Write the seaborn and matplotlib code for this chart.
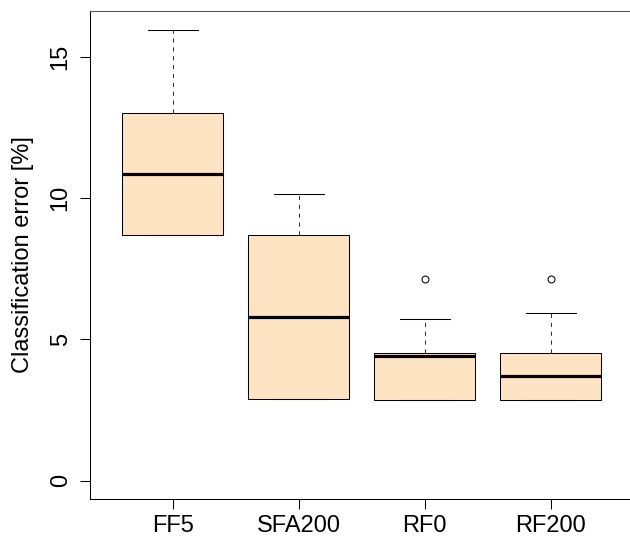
import numpy as np
import pandas as pd
import matplotlib
matplotlib.use("Agg")
import matplotlib.pyplot as plt
import seaborn as sns

# ---- data (classification error in %) ----
methods = ["FF5", "SFA200", "RF0", "RF200"]
ff5_err = [8.69, 8.69, 8.69, 10.86, 13.03, 13.03, 15.95]
sfa200_err = [2.89, 2.89, 2.89, 5.80, 8.69, 8.69, 10.15]
rf0_err = [2.85, 2.85, 2.85, 2.85, 4.40, 4.51, 4.51, 5.71, 7.13]
rf200_err = [2.85, 2.85, 2.85, 2.85, 3.69, 4.51, 4.51, 5.95, 7.13]
y_ticks = [0, 5, 10, 15]
y_label = "Classification error [%]"

series = [ff5_err, sfa200_err, rf0_err, rf200_err]
df = pd.DataFrame({
    "method": np.concatenate([[m] * len(v) for m, v in zip(methods, series)]),
    "error": np.concatenate(series),
})

plt.rcParams["font.family"] = ["Liberation Sans", "DejaVu Sans"]

fig = plt.figure(figsize=(6.3, 5.39), dpi=100)
ax = fig.add_axes([89.7 / 630, 1 - 498.7 / 539, (633.9 - 89.7) / 630, (498.7 - 10.7) / 539])

sns.boxplot(
    data=df, x="method", y="error", order=methods, ax=ax,
    color="#FFE4C4", saturation=1, linecolor="black", linewidth=0.75,
    width=0.8, fliersize=5,
    whiskerprops=dict(linestyle=(0, (4, 4.5)), color="#333333", linewidth=0.75),
    capprops=dict(color="black", linewidth=0.75),
    medianprops=dict(color="black", linewidth=2.3),
    flierprops=dict(marker="o", markerfacecolor="none", markeredgecolor="black",
                    markeredgewidth=0.75),
)

ax.set_xlim(-0.66, 3.66)
ax.set_ylim(-0.64, 16.64)
ax.set_yticks(y_ticks)
ax.set_yticklabels([str(t) for t in y_ticks], rotation=90, va="center")
ax.set_xlabel("")
ax.set_ylabel(y_label, fontsize=17, labelpad=11)
ax.tick_params(axis="both", direction="out", length=7, width=0.75, labelsize=17,
               color="black")
ax.tick_params(axis="y", pad=6)
ax.tick_params(axis="x", pad=5)
for s in ax.spines.values():
    s.set_visible(True)
    s.set_linewidth(0.75)
    s.set_color("black")
ax.spines["top"].set_color("#555555")
ax.grid(False)

fig.savefig("out.png", dpi=100)
